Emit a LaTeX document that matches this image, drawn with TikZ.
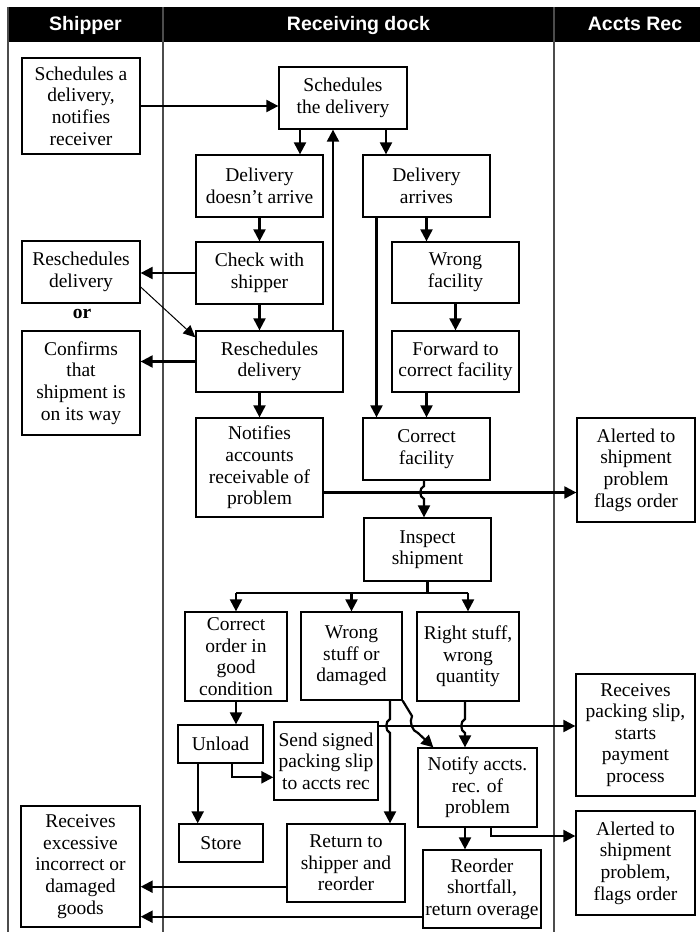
\documentclass[tikz,border=0pt]{standalone}
\usepackage{fontspec}
\setmainfont{Liberation Serif}
\setsansfont{Liberation Sans}
\usetikzlibrary{arrows.meta,calc}

\begin{document}
\begin{tikzpicture}[x=1pt,y=-1pt,
  box/.style={draw=black,line width=1.3pt,fill=white,align=center,inner sep=0pt,
    font=\fontsize{19.5}{21.6}\selectfont},
  arr/.style={line width=2.2pt,-{Triangle[length=12pt,width=12pt]}},
  link/.style={line width=2.2pt},
  fine/.style={line width=1pt,-{Triangle[length=12pt,width=11pt]}},
  lane/.style={line width=1.3pt,draw=black!70},
  head/.style={text=white,anchor=base,font=\sffamily\bfseries\fontsize{19.5}{22}\selectfont}]

\useasboundingbox (0,0) rectangle (700,932);

% header bar
\fill[black] (8,7) rectangle (700,42);
\node[head] (hs) at (85.5,30.5) {Shipper};
\node[head] (hr) at (358.5,30.5) {Receiving dock};
\node[head] (ha) at (635,30.5) {Accts Rec};

% swimlane borders
\draw[lane] (8,7) -- (8,932);
\draw[lane] (163,7) -- (163,932);
\draw[lane] (554,7) -- (554,932);

% process steps
\node[box,minimum width=118pt,minimum height=96pt] (s1) at (81,106) {Schedules a\\delivery,\\notifies\\receiver};
\node[box,minimum width=128pt,minimum height=62pt] (sched) at (343,98) {Schedules\\the delivery};
\node[box,minimum width=127pt,minimum height=62pt] (dna) at (259.5,186) {Delivery\\doesn’t arrive};
\node[box,minimum width=127pt,minimum height=62pt] (da) at (426.5,186) {Delivery\\arrives};
\node[box,minimum width=127pt,minimum height=62pt] (chk) at (259.5,273) {Check with\\shipper};
\node[box,minimum width=118pt,minimum height=62pt] (s2) at (81,272) {Reschedules\\delivery};
\node[font=\bfseries\fontsize{19.5}{21.6}\selectfont] (or) at (82,314) {or};
\node[box,minimum width=118pt,minimum height=104pt] (s3) at (81,383) {Confirms\\that\\shipment is\\on its way};
\node[box,minimum width=147pt,minimum height=61pt] (resch) at (269.5,361.5) {Reschedules\\delivery};
\node[box,minimum width=127pt,minimum height=99pt] (notif) at (259.5,467.5) {Notifies\\accounts\\receivable of\\problem};
\node[box,minimum width=127pt,minimum height=61pt] (wf) at (455.5,272.5) {Wrong\\facility};
\node[box,minimum width=127pt,minimum height=61pt] (fwd) at (455.5,361.5) {Forward to\\correct facility};
\node[box,minimum width=127pt,minimum height=62pt] (cf) at (426.5,449) {Correct\\facility};
\node[box,minimum width=118pt,minimum height=104pt] (a1) at (636,470) {Alerted to\\shipment\\problem\\flags order};
\node[box,minimum width=127pt,minimum height=63pt] (insp) at (427.5,549.5) {Inspect\\shipment};
\node[box,minimum width=102pt,minimum height=89pt] (cor) at (236,656.5) {Correct\\order in\\good\\condition};
\node[box,minimum width=101pt,minimum height=88pt] (ws) at (351.5,656) {Wrong\\stuff or\\damaged};
\node[box,minimum width=102pt,minimum height=89pt] (rs) at (468,656.5) {Right stuff,\\wrong\\quantity};
\node[box,minimum width=85pt,minimum height=38pt] (unl) at (220.5,744) {Unload};
\node[box,minimum width=104pt,minimum height=78pt] (send) at (326,761) {Send signed\\packing slip\\to accts rec};
\node[box,minimum width=119pt,minimum height=122pt] (rps) at (635.5,735) {Receives\\packing slip,\\starts\\payment\\process};
\node[box,minimum width=119pt,minimum height=79pt] (nty) at (477.5,787.5) {Notify accts.\\rec. of\\problem};
\node[box,minimum width=84pt,minimum height=38pt] (store) at (221,843) {Store};
\node[box,minimum width=118pt,minimum height=78pt] (ret) at (346,863) {Return to\\shipper and\\reorder};
\node[box,minimum width=118pt,minimum height=78pt] (reo) at (482,889) {Reorder\\shortfall,\\return overage};
\node[box,minimum width=119pt,minimum height=104pt] (a2) at (635.5,863) {Alerted to\\shipment\\problem,\\flags order};
\node[box,minimum width=119pt,minimum height=121pt] (rex) at (80.5,866.5) {Receives\\excessive\\incorrect or\\damaged\\goods};

% connector anchor points
\coordinate (q1) at ([xshift=-43pt]sched.south);
\coordinate (q2) at ([xshift=43pt]sched.south);
\coordinate (q3) at ([xshift=63.5pt]resch.north);
\coordinate (q4) at ([yshift=-25pt]notif.east);
\coordinate (q5) at ([xshift=-50pt]da.south);
\coordinate (q6) at ([xshift=-2.5pt]cf.south);
\coordinate (br) at ([yshift=-11pt]insp.south);
\coordinate (q7) at ([xshift=-22.8pt]unl.south);
\coordinate (q8) at ([xshift=11.8pt]unl.south);
\coordinate (q9) at ([yshift=-16.3pt]send.west);
\coordinate (q10) at ([yshift=35pt]send.east);
\coordinate (q11) at ([xshift=38.5pt]ws.south);
\coordinate (q12) at ([xshift=16pt]nty.north west);
\coordinate (q13) at ([xshift=-3pt]rs.south);
\coordinate (q14) at ([xshift=-12.5pt]nty.south);
\coordinate (q15) at ([xshift=13.5pt]nty.south);
\coordinate (q16) at ([yshift=27pt]a2.west);
\coordinate (q17) at ([yshift=-23.7pt]ret.west);
\coordinate (q18) at ([yshift=-27.7pt]reo.west);

% scheduling loop
\draw[arr] (s1.east) -- (s1.east -| sched.west);
\draw[arr] (q1) -- (q1 |- dna.north);
\draw[arr] (q2) -- (q2 |- da.north);
\draw[arr] (q3) -- (q3 |- sched.south);
\draw[arr] (dna.south) -- (chk.north);
\draw[arr] (chk.west) -- (chk.west -| s2.east);
\draw[arr] (chk.south) -- (chk.south |- resch.north);
\draw[fine] ([yshift=-15pt]s2.east) -- ([yshift=-7pt]resch.north west);
\draw[arr] (resch.west) -- (resch.west -| s3.east);
\draw[arr] (notif.north |- resch.south) -- (notif.north);
\draw[arr] (q4) -- (q4 -| a1.west);

% arrival
\draw[arr] (da.south) -- (da.south |- wf.north);
\draw[arr] (q5) -- (q5 |- cf.north);
\draw[arr] (wf.south) -- (fwd.north);
\draw[arr] (cf.north |- fwd.south) -- (cf.north);
\draw[arr] (q6) -- (424,486) .. controls (419,488) and (419,497) .. (424,499) -- (q6 |- insp.north);

% inspection branches
\draw[link] (insp.south) -- (br);
\draw[link] (br -| cor.north) -- (br -| rs.north);
\draw[arr] (br -| cor.north) -- (cor.north);
\draw[arr] (br -| ws.north) -- (ws.north);
\draw[arr] (br -| rs.north) -- (rs.north);

% good order
\draw[arr] (cor.south) -- (cor.south |- unl.north);
\draw[arr] (q7) -- (q7 |- store.north);
\draw[arr] (q8) |- (q9);
\draw[arr] (q10) -- (q10 -| rps.west);

% problem orders
\draw[arr] (q11) -- (390,719) .. controls (385,721) and (385,731) .. (390,733) -- (q11 |- ret.north);
\draw[arr] (ws.south east) -- (412,716) .. controls (409,722) and (412,731) .. (418,733) -- (q12);
\draw[arr] (q13) -- (465,719) .. controls (460,721) and (460,731) .. (465,733) -- (q13 |- nty.north);
\draw[arr] (q14) -- (q14 |- reo.north);
\draw[arr] (q15) |- (q16);
\draw[arr] (q17) -- (q17 -| rex.east);
\draw[arr] (q18) -- (q18 -| rex.east);
\end{tikzpicture}
\end{document}
